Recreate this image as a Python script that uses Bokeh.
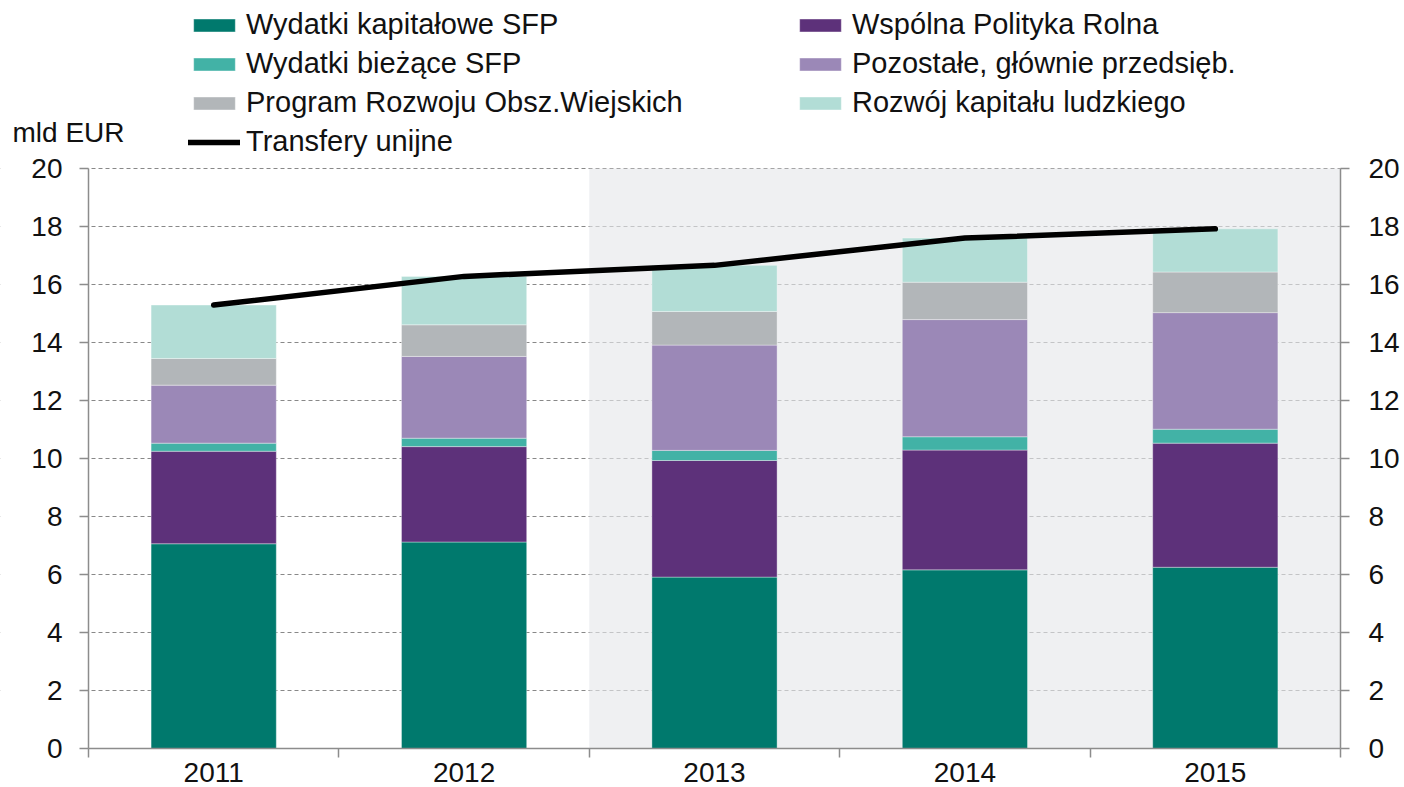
from bokeh.plotting import figure
from bokeh.models import (ColumnDataSource, Range1d, LinearAxis, FixedTicker,
                          Legend, LegendItem, BoxAnnotation, Label)
from bokeh.embed import file_html
from bokeh.resources import INLINE

# ---------------- data ----------------
years = ["2011", "2012", "2013", "2014", "2015"]
kapitalowe_sfp = [7.06, 7.12, 5.91, 6.16, 6.25]
wspolna_pr = [3.19, 3.29, 4.02, 4.13, 4.28]
biezace_sfp = [0.28, 0.29, 0.35, 0.46, 0.48]
pozostale = [2.00, 2.82, 3.63, 4.04, 4.02]
prow = [0.92, 1.09, 1.16, 1.29, 1.40]
kapital_ludzki = [1.84, 1.67, 1.59, 1.52, 1.49]
transfery = [15.29, 16.28, 16.66, 17.60, 17.92]
y_ticks = [0, 2, 4, 6, 8, 10, 12, 14, 16, 18, 20]
forecast_from = "2013"

series_names = ["Wydatki kapitałowe SFP", "Wspólna Polityka Rolna", "Wydatki bieżące SFP",
                "Pozostałe, głównie przedsięb.", "Program Rozwoju Obsz.Wiejskich",
                "Rozwój kapitału ludzkiego"]
line_name = "Transfery unijne"
unit_label = "mld EUR"

# ---------------- styles / layout ----------------
FONT = "Liberation Sans"
colors = ["#00796D", "#5D317A", "#42B2A6", "#9B88B7", "#B2B6B9", "#B2DDD6"]
AXIS_COLOR = "#8C8C8C"
W, H = 1404, 787
AX_L, AX_R, AX_B = 88, 1340, 748     # pixel positions of the plotting box
n = len(years)
x_lo, x_hi = -0.5, n - 0.5
ppu_x = (AX_R - AX_L) / (x_hi - x_lo)
ppu_y = 29.0
x_start = x_lo - AX_L / ppu_x
x_end = x_hi + (W - AX_R) / ppu_x
y_start = y_ticks[0] - (H - AX_B) / ppu_y
y_end = y_ticks[0] + AX_B / ppu_y

x = list(range(n))
keys = ["kap", "wpr", "bie", "poz", "prow", "lud"]
source = ColumnDataSource(dict(x=x, kap=kapitalowe_sfp, wpr=wspolna_pr, bie=biezace_sfp,
                               poz=pozostale, prow=prow, lud=kapital_ludzki, tr=transfery))

p = figure(width=W, height=H, output_backend="svg", toolbar_location=None,
           x_range=Range1d(x_start, x_end), y_range=Range1d(y_start, y_end),
           min_border_left=0, min_border_right=0, min_border_top=0, min_border_bottom=0)
p.outline_line_color = None
p.background_fill_color = "white"

# grid
p.xgrid.visible = False
p.ygrid.ticker = FixedTicker(ticks=y_ticks[1:])
p.ygrid.grid_line_color = "#888888"
p.ygrid.grid_line_dash = "4 3"
p.ygrid.grid_line_width = 1

# forecast shading + white masks outside the axes box
fi = years.index(forecast_from)
p.add_layout(BoxAnnotation(left=fi - 0.5, right=x_hi, bottom=y_ticks[0], top=y_ticks[-1],
                           fill_color="#E6E7EA", fill_alpha=0.63, line_color=None,
                           level="underlay"))
p.add_layout(BoxAnnotation(right=x_lo, fill_color="white", fill_alpha=1, line_color=None,
                           level="underlay"))
p.add_layout(BoxAnnotation(left=x_hi, fill_color="white", fill_alpha=1, line_color=None,
                           level="underlay"))

# bars
bars = p.vbar_stack(keys, x="x", width=0.5, source=source, color=colors,
                    line_color="white", line_width=0.6, line_alpha=0.6)
ln = p.line("x", "tr", source=source, line_color="black", line_width=5.5, line_cap="round")

# axes
def style_axis(ax):
    ax.axis_line_color = AXIS_COLOR
    ax.axis_line_width = 1.5
    ax.major_tick_line_color = AXIS_COLOR
    ax.major_tick_line_width = 1.5
    ax.major_tick_out = 9
    ax.major_tick_in = 0
    ax.minor_tick_line_color = None
    ax.major_label_text_font = FONT
    ax.major_label_text_font_size = "28px"
    ax.major_label_text_color = "#111111"

yl = p.yaxis[0]
yl.ticker = FixedTicker(ticks=y_ticks)
yl.bounds = (y_ticks[0], y_ticks[-1])
yl.fixed_location = x_lo
style_axis(yl)
yl.major_label_standoff = 17

yr = LinearAxis(ticker=FixedTicker(ticks=y_ticks), bounds=(y_ticks[0], y_ticks[-1]),
                fixed_location=x_hi)
style_axis(yr)
yr.major_label_standoff = 19
p.add_layout(yr, "right")

xa = p.xaxis[0]
xa.ticker = FixedTicker(ticks=x, minor_ticks=[i - 0.5 for i in range(n + 1)])
xa.bounds = (x_lo, x_hi)
xa.fixed_location = y_ticks[0]
style_axis(xa)
xa.major_tick_line_color = None
xa.minor_tick_line_color = AXIS_COLOR
xa.minor_tick_line_width = 1.5
xa.minor_tick_out = 9
xa.minor_tick_in = 0
xa.major_label_overrides = {i: y for i, y in enumerate(years)}
xa.major_label_standoff = 5
xa.major_label_text_line_height = 0.9

# unit label (screen units measured from the bottom of the canvas)
p.add_layout(Label(x=12, y=H - 132, x_units="screen", y_units="screen", text=unit_label,
                   text_font=FONT, text_font_size="28px", text_color="#111111",
                   text_baseline="alphabetic"))

# legends
def mk_legend(items, loc):
    return Legend(items=items, location=loc, orientation="vertical",
                  label_text_font=FONT, label_text_font_size="29px", label_text_color="#111111",
                  glyph_width=52, glyph_height=16, label_height=35, label_standoff=6, spacing=4,
                  padding=0, margin=0, border_line_alpha=0, background_fill_alpha=0)

leg1 = mk_legend([LegendItem(label=series_names[0], renderers=[bars[0]]),
                  LegendItem(label=series_names[2], renderers=[bars[2]]),
                  LegendItem(label=series_names[4], renderers=[bars[4]]),
                  LegendItem(label=line_name, renderers=[ln])], (188, H - 159))
leg2 = mk_legend([LegendItem(label=series_names[1], renderers=[bars[1]]),
                  LegendItem(label=series_names[3], renderers=[bars[3]]),
                  LegendItem(label=series_names[5], renderers=[bars[5]])], (794, H - 120))
p.add_layout(leg1)
p.add_layout(leg2)

open("out.html", "w").write(file_html(p, INLINE))
